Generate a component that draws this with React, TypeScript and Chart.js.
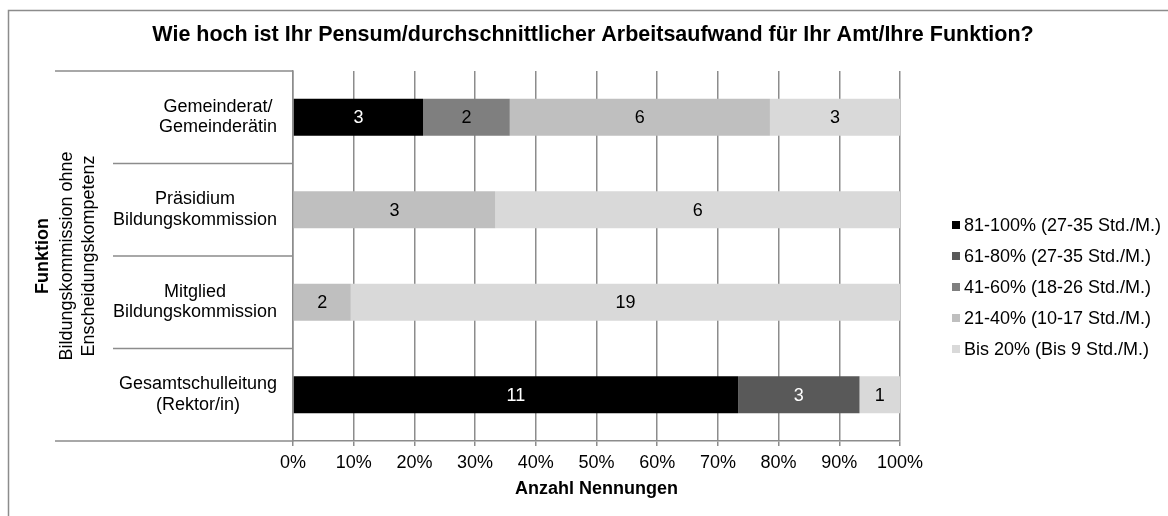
import { useEffect, useRef } from 'react';
import { Chart, registerables } from 'chart.js';

Chart.register(...registerables);

const chartTitle = 'Wie hoch ist Ihr Pensum/durchschnittlicher Arbeitsaufwand für Ihr Amt/Ihre Funktion?';
const xAxisTitle = 'Anzahl Nennungen';
const yAxisTitle = 'Funktion';
const groupLabel = ['Bildungskommission ohne', 'Enscheidungskompetenz'];

const categories = [
  ['Gemeinderat/', 'Gemeinderätin'],
  ['Präsidium', 'Bildungskommission'],
  ['Mitglied', 'Bildungskommission'],
  ['Gesamtschulleitung', '(Rektor/in)'],
];

const seriesNames = [
  '81-100% (27-35 Std./M.)',
  '61-80% (27-35 Std./M.)',
  '41-60% (18-26 Std./M.)',
  '21-40% (10-17 Std./M.)',
  'Bis 20% (Bis 9 Std./M.)',
];

const s81to100 = [3, 0, 0, 11];
const s61to80 = [0, 0, 0, 3];
const s41to60 = [2, 0, 0, 0];
const s21to40 = [6, 3, 2, 0];
const sBis20 = [3, 6, 19, 1];

const seriesColors = ['#000000', '#595959', '#7f7f7f', '#bfbfbf', '#d9d9d9'];
const labelColors = ['#ffffff', '#ffffff', '#000000', '#000000', '#000000'];

const FONT = "'Liberation Sans', Arial, sans-serif";
const LINE = '#8c8c8c';

export default function App() {
  const ref = useRef<HTMLCanvasElement>(null);

  useEffect(() => {
    if (!ref.current) return;
    const counts = [s81to100, s61to80, s41to60, s21to40, sBis20];
    const totals = categories.map((_, i) => counts.reduce((a, s) => a + s[i], 0));

    const datasets = counts.map((s, k) => ({
      label: seriesNames[k],
      data: s.map((v, i) => (v / totals[i]) * 100),
      counts: s,
      backgroundColor: seriesColors[k],
      borderWidth: 0,
      barPercentage: 0.4,
      categoryPercentage: 1.0,
    }));

    const custom = {
      id: 'custom',
      beforeDraw(chart: any) {
        const ctx = chart.ctx;
        ctx.save();
        ctx.fillStyle = '#ffffff';
        ctx.fillRect(0, 0, chart.width, chart.height);
        ctx.strokeStyle = LINE;
        ctx.lineWidth = 1.5;
        ctx.beginPath();
        ctx.moveTo(8.5, chart.height);
        ctx.lineTo(8.5, 10.5);
        ctx.lineTo(chart.width, 10.5);
        ctx.stroke();
        ctx.restore();
      },
      afterDatasetsDraw(chart: any) {
        const ctx = chart.ctx;
        ctx.save();
        ctx.font = `18px ${FONT}`;
        ctx.textAlign = 'center';
        ctx.textBaseline = 'middle';
        chart.data.datasets.forEach((ds: any, k: number) => {
          const meta = chart.getDatasetMeta(k);
          meta.data.forEach((el: any, i: number) => {
            const c = ds.counts[i];
            if (!c) return;
            ctx.fillStyle = labelColors[k];
            ctx.fillText(String(c), (el.x + el.base) / 2, el.y + 1);
          });
        });
        ctx.restore();
      },
      afterDraw(chart: any) {
        const ctx = chart.ctx;
        const y = chart.scales.y;
        const area = chart.chartArea;
        ctx.save();

        // chart title
        ctx.fillStyle = '#000000';
        ctx.font = `bold 21.5px ${FONT}`;
        ctx.textAlign = 'center';
        ctx.textBaseline = 'middle';
        ctx.fillText(chartTitle, 593, 35);

        // separator lines on the left
        ctx.strokeStyle = LINE;
        ctx.lineWidth = 1.5;
        const n = categories.length;
        const band = y.getPixelForValue(1) - y.getPixelForValue(0);
        ctx.beginPath();
        ctx.moveTo(55, area.top);
        ctx.lineTo(area.left, area.top);
        ctx.moveTo(55, area.bottom);
        ctx.lineTo(area.left, area.bottom);
        for (let i = 1; i < n; i++) {
          const py = y.getPixelForValue(i) - band / 2;
          ctx.moveTo(113, py);
          ctx.lineTo(area.left, py);
        }
        ctx.stroke();

        // category labels
        ctx.font = `18px ${FONT}`;
        categories.forEach((lines, i) => {
          const cy = y.getPixelForValue(i);
          const maxW = Math.max(...lines.map((l) => ctx.measureText(l).width));
          const cx = area.left - 16 - maxW / 2;
          const lh = 20.5;
          lines.forEach((l, j) => {
            ctx.fillText(l, cx, cy + (j - (lines.length - 1) / 2) * lh);
          });
        });

        // group label (rotated)
        const gy = (y.getPixelForValue(1) + y.getPixelForValue(2)) / 2;
        ctx.save();
        ctx.translate(78, gy);
        ctx.rotate(-Math.PI / 2);
        groupLabel.forEach((l, j) => {
          ctx.fillText(l, 0, (j - 0.5) * 22);
        });
        ctx.restore();

        // y axis title
        ctx.save();
        ctx.font = `bold 18px ${FONT}`;
        ctx.translate(43, (area.top + area.bottom) / 2);
        ctx.rotate(-Math.PI / 2);
        ctx.fillText(yAxisTitle, 0, 0);
        ctx.restore();

        // legend
        ctx.font = `18px ${FONT}`;
        ctx.textAlign = 'left';
        chart.data.datasets.forEach((ds: any, k: number) => {
          const ly = 225 + k * 31;
          ctx.fillStyle = ds.backgroundColor;
          ctx.fillRect(952, ly - 4, 8, 8);
          ctx.fillStyle = '#000000';
          ctx.fillText(ds.label, 964, ly + 1);
        });
        ctx.restore();
      },
    };

    const chart = new Chart(ref.current, {
      type: 'bar',
      data: {
        labels: categories.map((c) => c.join(' ')),
        datasets: datasets as any,
      },
      plugins: [custom],
      options: {
        indexAxis: 'y',
        animation: false,
        responsive: false,
        maintainAspectRatio: false,
        layout: { padding: { left: 0, right: 268, top: 71, bottom: 0 } },
        plugins: {
          legend: { display: false },
          tooltip: { enabled: false },
          title: { display: false },
        },
        scales: {
          x: {
            type: 'linear',
            stacked: true,
            min: 0,
            max: 100,
            ticks: {
              stepSize: 10,
              callback: (v: any) => `${v}%`,
              color: '#000000',
              font: { family: FONT, size: 18 },
              padding: 6,
              maxRotation: 0,
              autoSkip: false,
            },
            grid: { color: LINE, lineWidth: 1.5, tickLength: 5, drawTicks: true },
            border: { color: LINE, width: 1.5 },
            title: {
              display: true,
              text: xAxisTitle,
              color: '#000000',
              font: { family: FONT, size: 18, weight: 'bold' },
              padding: { top: 0, bottom: 16 },
            },
            afterFit: (s: any) => {
              s.height = 75;
            },
          },
          y: {
            type: 'category',
            stacked: true,
            offset: true,
            ticks: { display: false },
            grid: { display: false },
            border: { color: LINE, width: 1.5 },
            afterFit: (s: any) => {
              s.width = 293;
            },
          },
        },
      } as any,
    });
    return () => chart.destroy();
  }, []);

  return (
    <div style={{ position: 'fixed', left: 0, top: 0, width: 1168, height: 516, background: '#fff' }}>
      <canvas ref={ref} width={1168} height={516} style={{ width: 1168, height: 516, display: 'block' }} />
    </div>
  );
}
